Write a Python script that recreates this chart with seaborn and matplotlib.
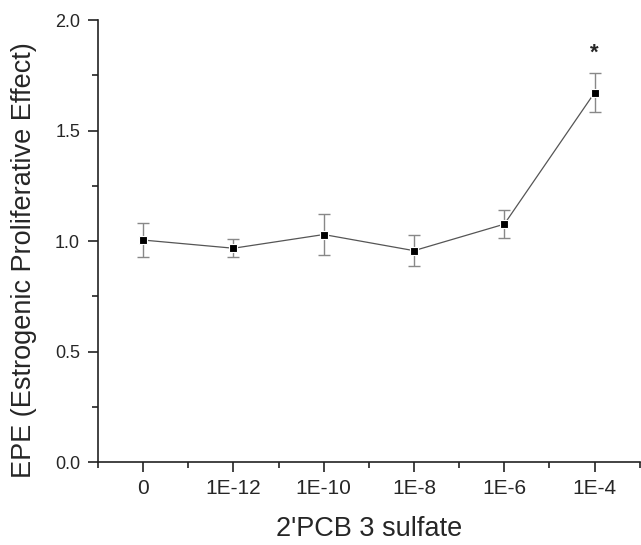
import numpy as np
import pandas as pd
import matplotlib
matplotlib.use("Agg")
import matplotlib.pyplot as plt
import seaborn as sns
from matplotlib.ticker import MultipleLocator

# Data
doses = ["0", "1E-12", "1E-10", "1E-8", "1E-6", "1E-4"]
epe = [1.005, 0.968, 1.03, 0.957, 1.077, 1.672]
err = [0.075, 0.04, 0.093, 0.07, 0.063, 0.088]

df = pd.DataFrame({"pos": np.arange(len(doses)), "dose": doses, "epe": epe, "err": err})

sns.set_style("ticks")
plt.rcParams["font.family"] = ["Liberation Sans", "DejaVu Sans"]

fig = plt.figure(figsize=(6.41, 5.45), dpi=100)
ax = fig.add_axes([0.153, 0.152, 0.845, 0.811])

# error bars first, then line + markers
ax.errorbar(df["pos"], df["epe"], yerr=df["err"], fmt="none", ecolor="#888888",
            elinewidth=1.0, capsize=4.5, capthick=1.0, zorder=2)
sns.lineplot(data=df, x="pos", y="epe", ax=ax, color="#555555", linewidth=0.9,
             marker="s", markersize=6, markerfacecolor="black", markeredgecolor="white",
             markeredgewidth=0.8, zorder=3)

# significance marker
ax.text(5, df["epe"].iloc[5] + df["err"].iloc[5] + 0.09, "*", ha="center", va="center",
        fontsize=16, fontweight="bold")

ax.set_xlim(-0.5, 5.5)
ax.set_ylim(0, 2.0)
ax.set_xticks(df["pos"])
ax.set_xticklabels(doses)
ax.set_xticks(np.arange(-0.5, 5.6, 1.0), minor=True)
ax.yaxis.set_major_locator(MultipleLocator(0.5))
ax.yaxis.set_minor_locator(MultipleLocator(0.25))
ax.yaxis.set_major_formatter(matplotlib.ticker.FormatStrFormatter("%.1f"))

ax.tick_params(axis="both", which="major", length=7, width=1.2, color="#222222")
ax.tick_params(axis="x", which="major", labelsize=15, pad=5)
ax.tick_params(axis="y", which="major", labelsize=13, pad=6)
ax.tick_params(axis="both", which="minor", length=4, width=1.2, color="#222222")
for s in ["left", "bottom"]:
    ax.spines[s].set_linewidth(1.2)
    ax.spines[s].set_color("#222222")
sns.despine(ax=ax)

ax.set_xlabel("2'PCB 3 sulfate", fontsize=19.5, labelpad=13)
ax.set_ylabel("EPE (Estrogenic Proliferative Effect)", fontsize=19.5)
ax.yaxis.set_label_coords(-0.113, 0.457)

fig.savefig("out.png", dpi=100)
